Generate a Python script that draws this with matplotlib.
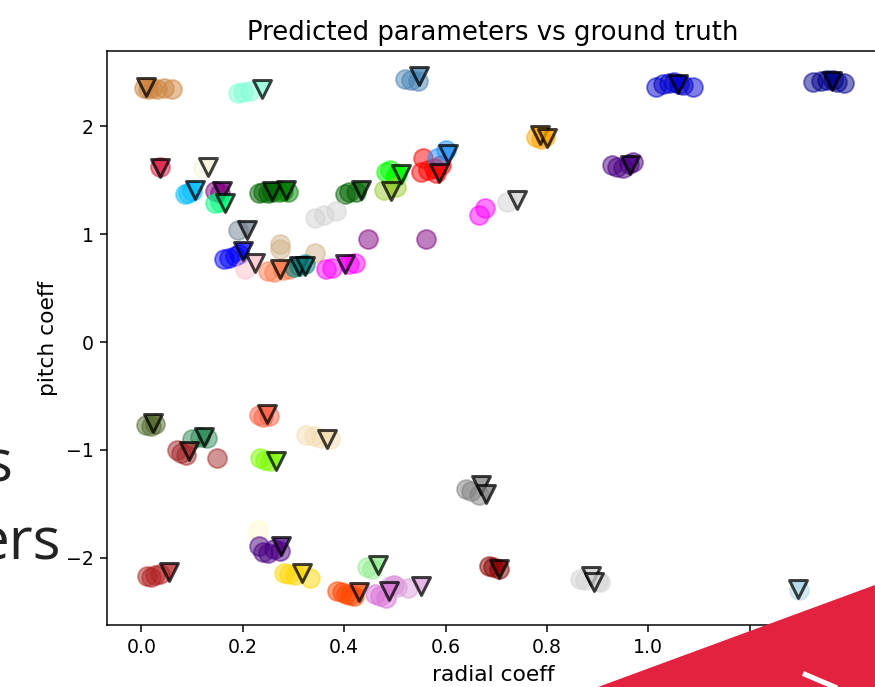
import matplotlib
matplotlib.use("Agg")
import matplotlib.pyplot as plt
from matplotlib.patches import Polygon
from matplotlib.lines import Line2D

# one entry per sample: colour, predicted (radial, pitch) points, ground truth points
colors = [
    "peru", "aquamarine", "crimson", "beige", "deepskyblue", "purple",
    "springgreen", "darkgreen", "green", "darkgreen", "lightgray",
    "slategray", "blue", "pink", "tan", "coral", "teal", "magenta",
    "purple", "steelblue", "orange", "red", "dodgerblue", "lime",
    "yellowgreen", "magenta", "lightgray", "mediumblue", "darkblue",
    "indigo", "darkolivegreen", "seagreen", "brown", "tomato",
    "lawngreen", "wheat", "lemonchiffon", "indigo", "gold", "firebrick",
    "lightgreen", "orangered", "orchid", "plum", "gray", "darkred",
    "lightgray", "lightblue",
]

pred_x = [
    [0.005, 0.012, 0.02, 0.03, 0.045, 0.06], [0.19, 0.2, 0.214], [0.036],
    [0.122], [0.085, 0.092, 0.1], [0.145, 0.155], [0.145, 0.155],
    [0.232, 0.24, 0.25, 0.258], [0.272, 0.28, 0.289], [0.402, 0.41, 0.424],
    [0.342, 0.361, 0.384], [0.191], [0.162, 0.172, 0.185, 0.192], [0.204],
    [0.273, 0.273, 0.342], [0.25, 0.262, 0.28, 0.292], [0.3, 0.31, 0.322],
    [0.365, 0.375, 0.41, 0.422], [0.447, 0.561], [0.52, 0.532, 0.545],
    [0.778, 0.788, 0.797], [0.555, 0.551, 0.578, 0.591, 0.581, 0.565],
    [0.60, 0.584], [0.482, 0.49, 0.5, 0.505], [0.479, 0.502],
    [0.666, 0.678], [0.722],
    [1.016, 1.028, 1.04, 1.05, 1.06, 1.069, 1.088],
    [1.324, 1.34, 1.352, 1.365, 1.373, 1.386],
    [0.928, 0.938, 0.95, 0.962, 0.97], [0.008, 0.018, 0.026],
    [0.1, 0.115, 0.13], [0.07, 0.078, 0.088, 0.149], [0.232, 0.24, 0.252],
    [0.234, 0.244, 0.254], [0.325, 0.34, 0.355, 0.372], [0.23],
    [0.232, 0.24, 0.25, 0.262, 0.273], [0.282, 0.292, 0.303, 0.332],
    [0.01, 0.018, 0.027, 0.036], [0.445, 0.455],
    [0.385, 0.395, 0.404, 0.412, 0.42], [0.46, 0.47, 0.483, 0.499],
    [0.49, 0.505, 0.525], [0.64, 0.65, 0.666], [0.685, 0.694, 0.705],
    [0.865, 0.875, 0.9, 0.905], [1.298],
]
pred_y = [
    [2.36, 2.35, 2.36, 2.35, 2.36, 2.35], [2.31, 2.32, 2.33], [1.62],
    [1.61], [1.37, 1.38, 1.40], [1.40, 1.38], [1.29, 1.30],
    [1.38, 1.39, 1.38, 1.39], [1.39, 1.40, 1.39], [1.37, 1.39, 1.39],
    [1.15, 1.18, 1.22], [1.04], [0.77, 0.78, 0.80, 0.82], [0.674],
    [0.905, 0.86, 0.83], [0.66, 0.65, 0.67, 0.68], [0.70, 0.71, 0.72],
    [0.68, 0.69, 0.72, 0.73], [0.96, 0.96], [2.44, 2.43, 2.42],
    [1.90, 1.88, 1.90], [1.705, 1.58, 1.61, 1.64, 1.57, 1.60],
    [1.78, 1.705], [1.58, 1.60, 1.53, 1.56], [1.41, 1.44],
    [1.18, 1.24], [1.30],
    [2.37, 2.39, 2.40, 2.41, 2.39, 2.38, 2.37],
    [2.41, 2.42, 2.43, 2.43, 2.41, 2.40],
    [1.64, 1.62, 1.61, 1.65, 1.67], [-0.77, -0.78, -0.76],
    [-0.90, -0.88, -0.89], [-1.00, -1.03, -1.05, -1.08], [-0.68, -0.70, -0.69],
    [-1.08, -1.09, -1.10], [-0.86, -0.87, -0.89, -0.895], [-1.74],
    [-1.89, -1.95, -1.96, -1.92, -1.94], [-2.14, -2.15, -2.16, -2.19],
    [-2.17, -2.18, -2.16, -2.15], [-2.09, -2.11],
    [-2.31, -2.32, -2.34, -2.35, -2.36], [-2.34, -2.36, -2.37, -2.25],
    [-2.26, -2.27, -2.28], [-1.36, -1.38, -1.42], [-2.08, -2.09, -2.11],
    [-2.20, -2.21, -2.22, -2.23], [-2.30],
]

true_x = [
    [0.008], [0.237], [0.036], [0.132], [0.105], [0.158], [0.165],
    [0.257], [0.286], [0.434], [], [0.208], [0.201], [0.224], [],
    [0.273], [0.31, 0.322], [0.401], [], [0.548], [0.787, 0.80],
    [0.586], [0.604], [0.512], [0.492], [], [0.741], [1.058], [1.363],
    [0.963], [0.023], [0.124], [0.093], [0.247], [0.265], [0.367], [],
    [0.276], [0.317], [0.054], [0.466], [0.43], [0.488], [0.551],
    [0.669, 0.679], [0.705], [0.887, 0.893], [1.296],
]
true_y = [
    [2.37], [2.35], [1.61], [1.62], [1.41], [1.40], [1.29],
    [1.40], [1.41], [1.41], [], [1.04], [0.84], [0.73], [],
    [0.68], [0.71, 0.71], [0.72], [], [2.47], [1.92, 1.89],
    [1.57], [1.74], [1.56], [1.40], [], [1.32], [2.39], [2.42],
    [1.64], [-0.75], [-0.88], [-1.01], [-0.67], [-1.10], [-0.895], [],
    [-1.895], [-2.14], [-2.13], [-2.07], [-2.32], [-2.31], [-2.26],
    [-1.33, -1.41], [-2.105], [-2.17, -2.23], [-2.295],
]

W, H, DPI = 875, 687, 136
fig = plt.figure(figsize=(W / DPI, H / DPI), dpi=DPI)
ax = fig.add_axes([107 / W, 1 - 625 / H, (879 - 107) / W, (625 - 51) / H])

for c, xs, ys in zip(colors, pred_x, pred_y):
    ax.scatter(xs, ys, s=100, color=c, alpha=0.5)

for c, xs, ys in zip(colors, true_x, true_y):
    if xs:
        ax.scatter(xs, ys, s=90, marker="v", facecolor=c, edgecolor="black",
                   linewidths=1.6, alpha=0.75)

ax.set_xlim(-0.068, 1.455)
ax.set_ylim(-2.625, 2.70)
ax.set_xticks([0.0, 0.2, 0.4, 0.6, 0.8, 1.0, 1.2, 1.4])
ax.set_yticks([-2, -1, 0, 1, 2])
ax.set_title("Predicted parameters vs ground truth", fontsize=13.8)
ax.set_xlabel("radial coeff", fontsize=11.5)
ax.set_ylabel("pitch coeff", fontsize=11.5)

# bits of the slide the figure sits on
fig.text(12 / W, 1 - 482 / H, "s", ha="right", va="baseline",
         fontsize=31, family="Open Sans", color="#222222")
fig.text(61 / W, 1 - 560 / H, "ers", ha="right", va="baseline",
         fontsize=31, family="Open Sans", color="#222222")
fig.patches.append(Polygon([[598 / W, 0], [1, 1 - 585 / H], [1, 0]],
                           closed=True, transform=fig.transFigure,
                           facecolor="#e3223f", edgecolor="none", zorder=10))
fig.lines.append(Line2D([803 / W, 850 / W], [1 - 673.5 / H, 1 - 693.5 / H],
                        transform=fig.transFigure, color="white",
                        linewidth=2.7, solid_capstyle="butt", zorder=11))

fig.savefig("out.png", dpi=DPI)
